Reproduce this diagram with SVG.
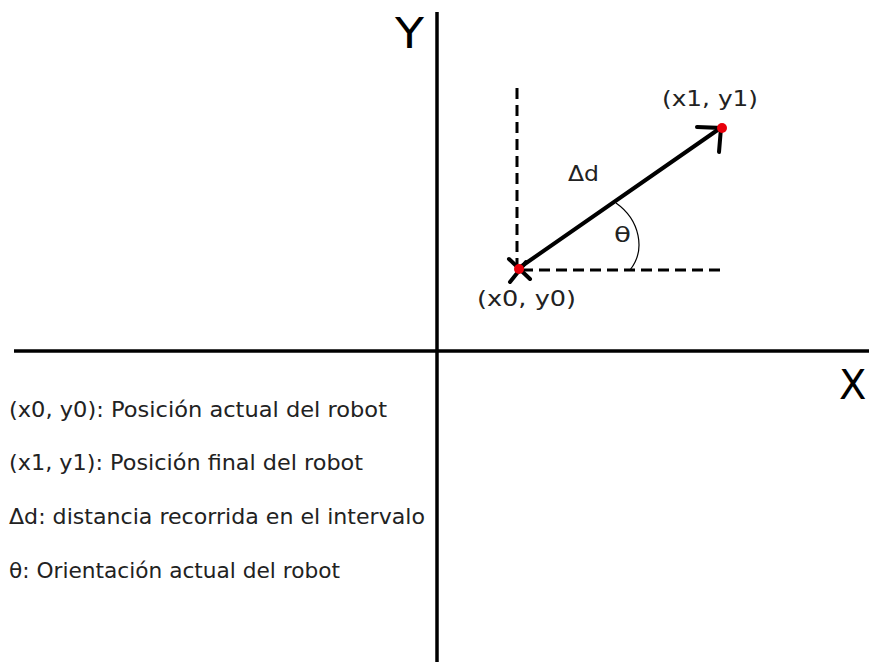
<svg xmlns="http://www.w3.org/2000/svg" width="869" height="662" viewBox="0 0 869 662">
<style>
.txt{font-family:"DejaVu Sans","Noto Sans",sans-serif;fill:#222;}
.axis{stroke:#000;stroke-width:3.5;fill:none;}
.dash{stroke:#000;stroke-width:3;stroke-dasharray:11 6;fill:none;}
.vec{stroke:#000;stroke-width:4;fill:none;stroke-linecap:round;stroke-linejoin:miter;}
.pt{fill:#e8000b;}
</style>
<rect width="869" height="662" fill="#fff"/>
<g id="axes">
  <line class="axis" x1="437" y1="12" x2="437" y2="662"/>
  <line class="axis" x1="14" y1="351" x2="869" y2="351"/>
  <text class="txt" x="395" y="48" font-size="42" textLength="29" lengthAdjust="spacingAndGlyphs" style="fill:#000">Y</text>
  <text class="txt" x="839" y="399" font-size="40" style="fill:#000">X</text>
</g>
<g id="connectors">
  <line class="dash" x1="517" y1="88" x2="517" y2="266"/>
  <line class="dash" x1="522" y1="270" x2="726" y2="270"/>
  <line class="vec" x1="519" y1="268" x2="719" y2="129"/>
  <polyline class="vec" points="697,127 721,128 719,152"/>
  <line class="vec" x1="509" y1="259" x2="530" y2="279"/>
  <line class="vec" x1="510" y1="282" x2="526" y2="262"/>
  <path d="M616,203 C640,220 646,250 630,270" stroke="#000" stroke-width="1.2" fill="none"/>
</g>
<g id="p0">
  <circle class="pt" cx="519" cy="269" r="5"/>
  <text class="txt" x="477" y="306" font-size="22" textLength="99" lengthAdjust="spacingAndGlyphs">(x0, y0)</text>
</g>
<g id="p1">
  <circle class="pt" cx="722" cy="128" r="5"/>
  <text class="txt" x="662" y="106" font-size="22" textLength="96" lengthAdjust="spacingAndGlyphs">(x1, y1)</text>
</g>
<g id="labels">
  <text class="txt" x="568" y="181" font-size="22" textLength="31" lengthAdjust="spacingAndGlyphs">Δd</text>
  <text class="txt" x="614" y="242" font-size="22" textLength="17" lengthAdjust="spacingAndGlyphs">θ</text>
</g>
<g id="legend">
  <text class="txt" x="9" y="417" font-size="20.5" textLength="378" lengthAdjust="spacingAndGlyphs">(x0, y0): Posición actual del robot</text>
  <text class="txt" x="9" y="470" font-size="20.5" textLength="354" lengthAdjust="spacingAndGlyphs">(x1, y1): Posición final del robot</text>
  <text class="txt" x="9" y="524" font-size="20.5" textLength="416" lengthAdjust="spacingAndGlyphs">Δd: distancia recorrida en el intervalo</text>
  <text class="txt" x="9" y="578" font-size="20.5" textLength="331" lengthAdjust="spacingAndGlyphs">θ: Orientación actual del robot</text>
</g>
</svg>
